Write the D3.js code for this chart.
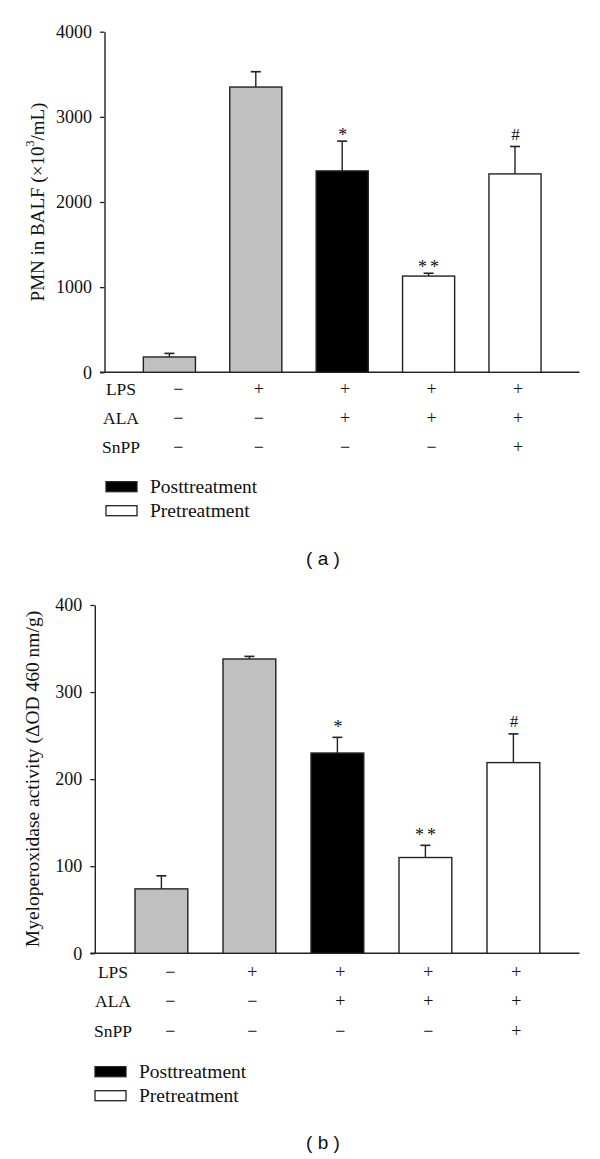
<!DOCTYPE html>
<html>
<head>
<meta charset="utf-8">
<script src="https://cdn.jsdelivr.net/npm/d3@7"></script>
<style>
  html, body { margin: 0; padding: 0; background: #fff; }
  svg { display: block; }
  text { font-family: "Liberation Serif", "Times New Roman", serif; fill: #111; }
</style>
</head>
<body>
<svg id="chart" width="600" height="1159"></svg>
<script>
// ---------------- data ----------------
const groups = ["G1", "G2", "G3", "G4", "G5"];
const treatment = ["control", "control", "post", "pre", "pre"];
const rowNames = ["LPS", "ALA", "SnPP"];
const lpsRow = ["−", "+", "+", "+", "+"];
const alaRow = ["−", "−", "+", "+", "+"];
const snppRow = ["−", "−", "−", "−", "+"];
const legendLabels = ["Posttreatment", "Pretreatment"];

const pmnValues = [180, 3350, 2365, 1130, 2330];
const pmnErrors = [42, 180, 350, 33, 322];
const pmnMarks = ["", "", "*", "**", "#"];
const pmnTicks = [0, 1000, 2000, 3000, 4000];

const mpoValues = [74, 338, 230, 110, 219];
const mpoErrors = [15, 3, 18, 14, 33];
const mpoMarks = ["", "", "*", "**", "#"];
const mpoTicks = [0, 100, 200, 300, 400];

const fills = { control: "#c0c0c0", post: "#000000", pre: "#ffffff" };
const legendKeys = ["post", "pre"];

// ---------------- drawing ----------------
const svg = d3.select("#chart");

function panel(o) {
  const g = svg.append("g");
  const y = d3.scaleLinear().domain([0, d3.max(o.ticks)]).range([o.y0, o.y1]);
  const x = d3.scaleBand().domain(groups).range([o.xr0, o.xr1])
    .paddingInner(o.pin).paddingOuter(o.pin / 2);

  // y axis
  const ax = g.append("g")
    .attr("transform", `translate(${o.axisX},0)`)
    .call(d3.axisLeft(y).tickValues(o.ticks).tickSize(4.5).tickSizeOuter(0).tickPadding(8).tickFormat(d3.format("d")));
  ax.select(".domain").attr("stroke", "#222").attr("stroke-width", 1.4);
  ax.selectAll(".tick line").attr("stroke", "#222").attr("stroke-width", 1.3);
  ax.selectAll(".tick text").attr("font-family", "Liberation Serif").attr("font-size", 18).attr("fill", "#111");

  // x axis line
  g.append("line")
    .attr("x1", o.axisX - 4.5).attr("x2", 579.5)
    .attr("y1", y(0)).attr("y2", y(0))
    .attr("stroke", "#222").attr("stroke-width", 1.4);

  // error bars (upper only)
  const eb = g.append("g");
  groups.forEach((k, i) => {
    const cx = x(k) + x.bandwidth() / 2;
    eb.append("line").attr("x1", cx).attr("x2", cx)
      .attr("y1", y(o.values[i])).attr("y2", y(o.values[i] + o.errors[i]))
      .attr("stroke", "#222").attr("stroke-width", 1.4);
    eb.append("line").attr("x1", cx - 5).attr("x2", cx + 5)
      .attr("y1", y(o.values[i] + o.errors[i])).attr("y2", y(o.values[i] + o.errors[i]))
      .attr("stroke", "#222").attr("stroke-width", 1.6);
  });

  // bars
  g.append("g").selectAll("rect").data(groups).join("rect")
    .attr("x", d => x(d))
    .attr("width", x.bandwidth())
    .attr("y", (d, i) => y(o.values[i]))
    .attr("height", (d, i) => y(0) - y(o.values[i]))
    .attr("fill", (d, i) => fills[treatment[i]])
    .attr("stroke", "#222").attr("stroke-width", 1.4);

  // significance marks
  g.append("g").selectAll("text").data(groups).join("text")
    .attr("x", (d, i) => x(d) + x.bandwidth() / 2 + (o.marks[i] === "**" ? 1.5 : 0.5))
    .attr("y", (d, i) => y(o.values[i] + o.errors[i]) - (o.marks[i] === "#" ? 6.5 : o.starGap))
    .attr("text-anchor", "middle")
    .attr("font-size", (d, i) => o.marks[i] === "#" ? 17 : 18)
    .attr("letter-spacing", (d, i) => o.marks[i] === "**" ? 3 : 0)
    .text((d, i) => o.marks[i]);

  // condition rows
  const rows = [lpsRow, alaRow, snppRow];
  rows.forEach((row, r) => {
    const ry = o.rowY[r];
    g.append("text").attr("x", o.rowLabelX).attr("y", ry)
      .attr("text-anchor", "middle").attr("dominant-baseline", "central")
      .attr("font-size", 17.5).text(rowNames[r]);
    g.append("g").selectAll("text").data(groups).join("text")
      .attr("x", (d, i) => x(d) + x.bandwidth() / 2 + (i === 0 ? 9 : 3))
      .attr("y", ry)
      .attr("text-anchor", "middle").attr("dominant-baseline", "central")
      .attr("font-size", 18).text((d, i) => row[i]);
  });

  // legend
  legendKeys.forEach((k, i) => {
    g.append("rect").attr("x", o.legX).attr("y", o.legY[i] - 5)
      .attr("width", 31).attr("height", 10)
      .attr("fill", fills[k]).attr("stroke", "#222").attr("stroke-width", 1.3);
    g.append("text").attr("x", o.legX + 44).attr("y", o.legY[i])
      .attr("dominant-baseline", "central").attr("font-size", 19.5)
      .text(legendLabels[i]);
  });

  // y-axis title
  const t = g.append("text")
    .attr("transform", `translate(${o.titleX},${o.titleY}) rotate(-90)`)
    .attr("text-anchor", "middle").attr("dominant-baseline", "central")
    .attr("font-size", o.titleSize);
  o.title(t);

  // panel letter
  g.append("text").attr("x", 323).attr("y", o.letterY)
    .attr("text-anchor", "middle").attr("dominant-baseline", "central")
    .style("font-family", "Liberation Sans, Arial, sans-serif")
    .attr("font-size", 19).text(o.letter);
}

panel({
  ticks: pmnTicks, values: pmnValues, errors: pmnErrors, marks: pmnMarks,
  y0: 372.3, y1: 31.7, axisX: 104.5, xr0: 126.2, xr1: 558.2, pin: 0.397,
  rowY: [389.3, 418.3, 447.3], rowLabelX: 121, starGap: 0,
  legX: 106, legY: [486.7, 510.7],
  titleX: 36.5, titleY: 202, titleSize: 19,
  title: t => {
    t.append("tspan").text("PMN in BALF (×10");
    t.append("tspan").attr("font-size", 12).attr("dy", -7).text("3");
    t.append("tspan").attr("dy", 7).text("/mL)");
  },
  letter: "( a )", letterY: 558
});

panel({
  ticks: mpoTicks, values: mpoValues, errors: mpoErrors, marks: mpoMarks,
  y0: 953.3, y1: 605, axisX: 94.8, xr0: 117.4, xr1: 557.4, pin: 0.4,
  rowY: [972.3, 1001, 1030.7], rowLabelX: 113, starGap: 4,
  legX: 95, legY: [1071.7, 1095.7],
  titleX: 32.5, titleY: 779, titleSize: 19.5,
  title: t => { t.text("Myeloperoxidase activity (ΔOD 460 nm/g)"); },
  letter: "( b )", letterY: 1142.7
});
</script>
</body>
</html>
